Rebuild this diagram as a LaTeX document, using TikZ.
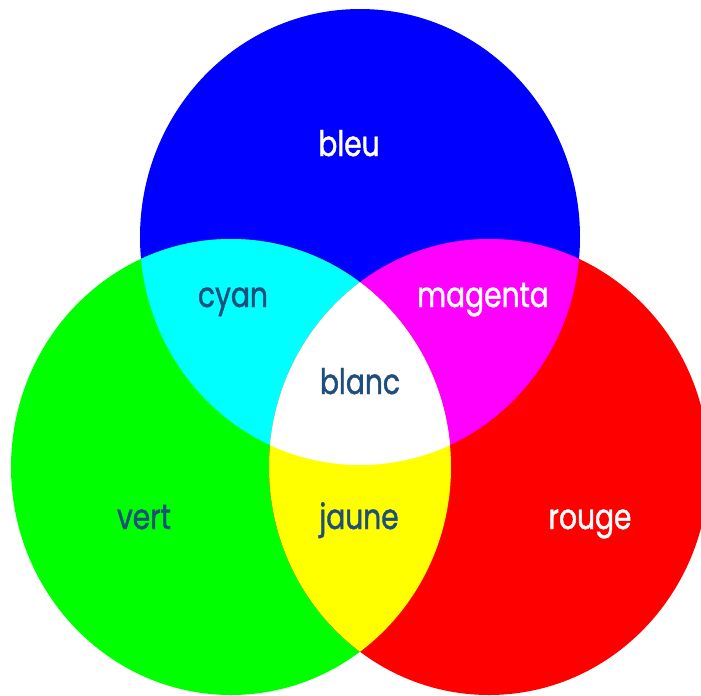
\documentclass[tikz,border=0pt]{standalone}
\usepackage{fontspec}
\setmainfont{Poppins}[FakeStretch=0.8, FakeBold=1.2]
\definecolor{encre}{RGB}{31,78,125}
\definecolor{pbleu}{RGB}{0,0,255}
\definecolor{pvert}{RGB}{0,255,0}
\definecolor{prouge}{RGB}{255,0,0}
\definecolor{pcyan}{RGB}{0,255,255}
\definecolor{pmagenta}{RGB}{255,0,255}
\definecolor{pjaune}{RGB}{255,255,0}

\begin{document}
\begin{tikzpicture}[
  disque/.style={x radius=2.2, y radius=2.28},
  etiquette/.style={anchor=base, inner sep=0pt, font=\fontsize{10}{12}\selectfont},
  every node/.style={etiquette}
]
  \useasboundingbox (0,0) rectangle (7.01,-6.95);
  \clip (0,0) rectangle (7.01,-6.95);

  % Centres des trois disques
  \coordinate (B) at (3.60,-2.37);
  \coordinate (V) at (2.31,-4.67);
  \coordinate (R) at (4.89,-4.67);

  % Couleurs primaires
  \fill[pbleu]  (B) ellipse[disque];
  \fill[pvert]  (V) ellipse[disque];
  \fill[prouge] (R) ellipse[disque];

  % Mélanges deux à deux
  \begin{scope}
    \clip (B) ellipse[disque];
    \fill[pcyan]    (V) ellipse[disque];
    \fill[pmagenta] (R) ellipse[disque];
  \end{scope}
  \begin{scope}
    \clip (V) ellipse[disque];
    \fill[pjaune]   (R) ellipse[disque];
  \end{scope}

  % Les trois ensemble
  \begin{scope}
    \clip (B) ellipse[disque];
    \clip (V) ellipse[disque];
    \fill[white]    (R) ellipse[disque];
  \end{scope}

  % Noms
  \node[white] (bleu)    at (3.49,-1.56) {bleu};
  \node[encre] (cyan)    at (2.33,-3.07) {cyan};
  \node[white] (magenta) at (4.83,-3.07) {magenta};
  \node[encre] (blanc)   at (3.60,-3.94) {blanc};
  \node[encre] (vert)    at (1.44,-5.29) {vert};
  \node[encre] (jaune)   at (3.59,-5.29) {jaune};
  \node[white] (rouge)   at (5.90,-5.29) {rouge};
\end{tikzpicture}
\end{document}
